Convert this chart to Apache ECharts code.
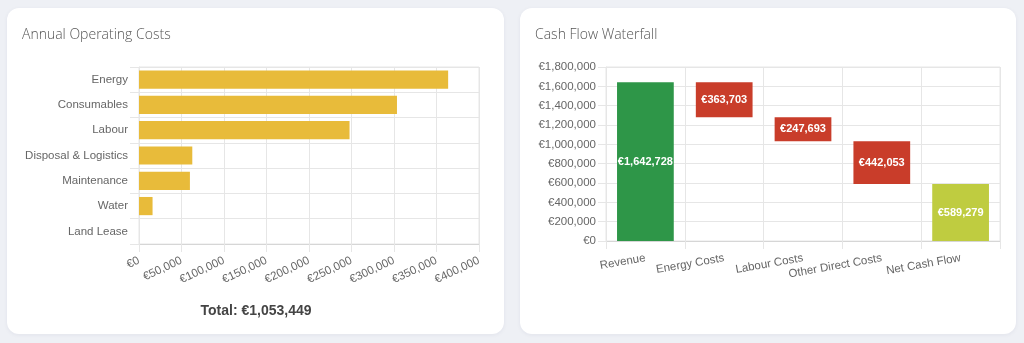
<!DOCTYPE html>
<html>
<head>
<meta charset="utf-8">
<script src="https://cdn.jsdelivr.net/npm/echarts@6/dist/echarts.min.js"></script>
<style>
  html, body { margin: 0; padding: 0; width: 1024px; height: 343px; background: #eef0f5; overflow: hidden; }
  .card { position: absolute; top: 8px; height: 326px; background: #fff; border-radius: 12px;
          box-shadow: 0 1px 4px rgba(30, 40, 80, 0.06); }
  #c1 { left: 7px; width: 497px; }
  #c2 { left: 520px; width: 496px; }
  #chart { position: absolute; left: 0; top: 0; width: 1024px; height: 343px; }
</style>
</head>
<body>
<div class="card" id="c1"></div>
<div class="card" id="c2"></div>
<div id="chart"></div>
<script>
// Annual operating costs by line item (EUR)
const costCategories = ['Energy', 'Consumables', 'Labour', 'Disposal & Logistics', 'Maintenance', 'Water', 'Land Lease'];
const costValues = [363703, 303500, 247693, 62700, 59900, 15953, 0];
const costTicks = [0, 50000, 100000, 150000, 200000, 250000, 300000, 350000, 400000];

// Cash flow waterfall steps (EUR); 'total' bars start at zero, 'minus' bars step down
const flowCategories = ['Revenue', 'Energy Costs', 'Labour Costs', 'Other Direct Costs', 'Net Cash Flow'];
const flowValues = [1642728, 363703, 247693, 442053, 589279];
const flowKinds = ['total', 'minus', 'minus', 'minus', 'total'];
const flowTicks = [0, 200000, 400000, 600000, 800000, 1000000, 1200000, 1400000, 1600000, 1800000];

const euro = v => '€' + Math.round(v).toLocaleString('en-US');
const total = costValues.reduce((a, b) => a + b, 0);

// Invisible base + visible step for each waterfall column
const flowBase = [];
const flowStep = [];
let running = 0;
flowValues.forEach((v, i) => {
  if (flowKinds[i] === 'total') {
    flowBase.push(0);
    running = v;
  } else {
    running -= v;
    flowBase.push(running);
  }
  flowStep.push(v);
});
const stepColor = i => flowKinds[i] === 'minus' ? '#c93d2a' : (i === 0 ? '#2e9648' : '#bfcc40');

const sans = '"Liberation Sans", Arial, sans-serif';
const axisFont = { color: '#666', fontSize: 11.5, fontFamily: sans };
const gridLine = { lineStyle: { color: '#e6e6e6', width: 1 } };
const titleStyle = { color: '#555', fontSize: 14, fontWeight: 300, fontFamily: '"Open Sans", sans-serif' };

const chart = echarts.init(document.getElementById('chart'), null, { renderer: 'canvas' });
chart.setOption({
  backgroundColor: 'transparent',
  animation: false,
  title: [
    { text: 'Annual Operating Costs', left: 22, top: 28, padding: 0, textStyle: titleStyle },
    { text: 'Cash Flow Waterfall', left: 535, top: 28, padding: 0, textStyle: titleStyle },
    { text: 'Total: ' + euro(total), left: 256, top: 304, padding: 0, textAlign: 'center',
      textStyle: { color: '#444', fontSize: 14, fontWeight: 'bold', fontFamily: sans } }
  ],
  grid: [
    { left: 139, top: 67, width: 340, height: 177, show: true, borderColor: '#e6e6e6', borderWidth: 1 },
    { left: 606, top: 67, width: 394, height: 174, show: true, borderColor: '#e6e6e6', borderWidth: 1 }
  ],
  xAxis: [
    { type: 'value', gridIndex: 0, min: costTicks[0], max: costTicks[costTicks.length - 1], interval: 50000,
      axisLine: { show: true, lineStyle: { color: '#d6d6d6' } },
      axisTick: { show: true, length: 8, lineStyle: { color: '#e6e6e6' } },
      splitLine: { show: true, ...gridLine },
      axisLabel: { ...axisFont, rotate: 25, margin: 16, formatter: euro } },
    { type: 'category', gridIndex: 1, data: flowCategories,
      axisLine: { show: true, lineStyle: { color: '#d6d6d6' } },
      axisTick: { show: true, length: 8, lineStyle: { color: '#e6e6e6' } },
      splitLine: { show: true, ...gridLine },
      axisLabel: { ...axisFont, rotate: 10, margin: 17, interval: 0 } }
  ],
  yAxis: [
    { type: 'category', gridIndex: 0, data: costCategories, inverse: true,
      axisLine: { show: true, lineStyle: { color: '#e6e6e6' } },
      axisTick: { show: true, length: 9, lineStyle: { color: '#e6e6e6' } },
      splitLine: { show: true, ...gridLine },
      axisLabel: { ...axisFont, margin: 11 } },
    { type: 'value', gridIndex: 1, min: flowTicks[0], max: flowTicks[flowTicks.length - 1], interval: 200000,
      axisLine: { show: true, lineStyle: { color: '#e6e6e6' } },
      axisTick: { show: true, length: 8, lineStyle: { color: '#e6e6e6' } },
      splitLine: { show: true, ...gridLine },
      axisLabel: { ...axisFont, margin: 10, formatter: euro } }
  ],
  series: [
    { type: 'bar', xAxisIndex: 0, yAxisIndex: 0, data: costValues, barWidth: '72%',
      itemStyle: { color: '#e8bb3a' } },
    { type: 'bar', xAxisIndex: 1, yAxisIndex: 1, stack: 'flow', data: flowBase, barWidth: '72%',
      itemStyle: { color: 'transparent' }, silent: true },
    { type: 'bar', xAxisIndex: 1, yAxisIndex: 1, stack: 'flow', barWidth: '72%',
      data: flowStep.map((v, i) => ({ value: v, itemStyle: { color: stepColor(i) } })),
      label: { show: true, position: 'inside', color: '#fff', fontWeight: 'bold', fontSize: 11,
               fontFamily: sans, formatter: p => euro(p.value) } }
  ]
});
</script>
</body>
</html>
